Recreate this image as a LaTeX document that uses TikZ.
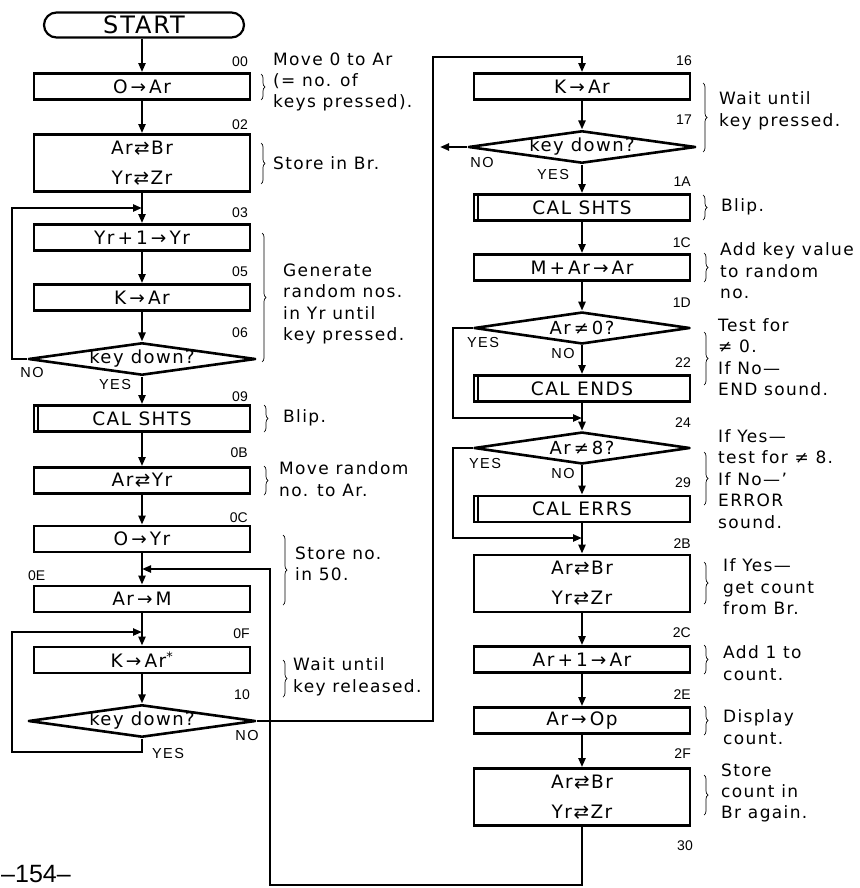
\documentclass[tikz,border=0pt]{standalone}
\usepackage{fontspec}
\setmainfont{DejaVu Sans}[LetterSpace=8]
\newfontfamily\lblfont{Liberation Sans}[LetterSpace=10]
\newfontfamily\numfont{Liberation Sans}
\usetikzlibrary{arrows.meta,shapes.geometric,decorations.pathreplacing}
\tikzset{
  proc/.style={draw, line width=2.8pt, minimum width=216pt, minimum height=26pt, inner sep=0pt,
    font=\fontsize{18.5}{30}\selectfont, align=center},
  dproc/.style={proc, minimum height=57pt},
  dec/.style={draw, diamond, aspect=7, line width=2.6pt, line join=round, minimum width=216pt,
    minimum height=32pt, inner sep=0pt, font=\fontsize{18}{20}\selectfont},
  term/.style={draw, rounded corners=12.5pt, line width=2.2pt, minimum width=200pt, minimum height=25pt,
    inner sep=0pt, font=\fontsize{24}{24}\selectfont},
  arr/.style={line width=2.2pt, -{Triangle[length=9pt,width=7pt]}},
  stepno/.style={font=\numfont\fontsize{14}{14}\selectfont, inner sep=0pt, anchor=east},
  yn/.style={font=\lblfont\fontsize{14.5}{15}\selectfont, inner sep=0pt},
  note/.style={font=\fontsize{17}{21.4}\selectfont, align=left, anchor=west, inner sep=0pt},
  brc/.style={decorate, decoration={brace, amplitude=4pt}, line width=0.7pt},
  subbar/.style={line width=1.4pt},
}
\begin{document}
\begin{tikzpicture}[x=1pt, y=-1pt]
\useasboundingbox (0,0) rectangle (859,888);

% ---------------- left column ----------------
\node[term] (start) at (144,25) {START};
\node[proc] (b00) at (142,86.5) {O\,→\,Ar};
\node[dproc] (b02) at (142,163) {Ar⇄Br\\Yr⇄Zr};
\node[proc] (b03) at (142,237.5) {Yr\,+\,1\,→\,Yr};
\node[proc] (b05) at (142,297.5) {K\,→\,Ar};
\node[dec] (d06) at (142,359) {key down?};
\node[proc] (b09) at (142,418.5) {CAL SHTS};
\node[proc] (b0B) at (142,480.5) {Ar⇄Yr};
\node[proc] (b0C) at (142,539) {O\,→\,Yr};
\node[proc] (b0E) at (142,599) {Ar\,→\,M};
\node[proc] (b0F) at (142,660) {K\,→\,Ar\textsuperscript{*}};
\node[dec] (d10) at (142,721) {key down?};

% ---------------- right column ----------------
\node[proc] (b16) at (582,86.5) {K\,→\,Ar};
\node[dec] (d17) at (582,147) {key down?};
\node[proc] (b1A) at (582,207.5) {CAL SHTS};
\node[proc] (b1C) at (582,267.5) {M\,+\,Ar\,→\,Ar};
\node[dec] (d1D) at (582,328) {Ar\,≠\,0?};
\node[proc] (b22) at (582,388.5) {CAL ENDS};
\node[dec] (d24) at (582,448) {Ar\,≠\,8?};
\node[proc] (b29) at (582,509) {CAL ERRS};
\node[dproc] (b2B) at (582,583.5) {Ar⇄Br\\Yr⇄Zr};
\node[proc] (b2C) at (582,659.5) {Ar\,+\,1\,→\,Ar};
\node[proc] (b2E) at (582,720.5) {Ar\,→\,Op};
\node[dproc] (b2F) at (582,797) {Ar⇄Br\\Yr⇄Zr};

% subroutine bars
\foreach \n in {b09,b1A,b22,b29}
  \draw[subbar] ([xshift=5.5pt]\n.north west) -- ([xshift=5.5pt]\n.south west);

% ---------------- junction coordinates ----------------
\coordinate (j03) at (142,208);
\coordinate (l03) at (12,208);
\coordinate (j0E) at (142,569);
\coordinate (j0F) at (142,632);
\coordinate (l0F) at (12,632);
\coordinate (c10) at (142,752);
\coordinate (r10) at (433,57);
\coordinate (n17) at (440,147);
\coordinate (j24) at (582,418);
\coordinate (l1D) at (453,418);
\coordinate (j2B) at (582,538);
\coordinate (l24) at (453,538);
\coordinate (c30) at (582,885);
\coordinate (r30) at (270,569);

% ---------------- connectors ----------------
\draw[arr] (b00.north |- start.south) -- (b00.north);
\draw[arr] (b00) -- (b02);
\draw[arr] (b02) -- (b03);
\draw[arr] (b03) -- (b05);
\draw[arr] (b05) -- (d06);
\draw[arr] (d06) -- (b09);
\draw[arr] (d06.west) -| (l03) -- (j03);
\draw[arr] (b09) -- (b0B);
\draw[arr] (b0B) -- (b0C);
\draw[arr] (b0C) -- (b0E);
\draw[arr] (b0E) -- (b0F);
\draw[arr] (b0F) -- (d10);
\draw[arr] (d10.south) -- (c10) -| (l0F) -- (j0F);
\draw[arr] (d10.east) -| (r10) -| (b16.north);

\draw[arr] (b16) -- (d17);
\draw[arr] (d17.west) -- (n17);
\draw[arr] (d17) -- (b1A);
\draw[arr] (b1A) -- (b1C);
\draw[arr] (b1C) -- (d1D);
\draw[arr] (d1D) -- (b22);
\draw[arr] (b22) -- (d24);
\draw[arr] (d1D.west) -| (l1D) -- (j24);
\draw[arr] (d24) -- (b29);
\draw[arr] (b29) -- (b2B);
\draw[arr] (d24.west) -| (l24) -- (j2B);
\draw[arr] (b2B) -- (b2C);
\draw[arr] (b2C) -- (b2E);
\draw[arr] (b2E) -- (b2F);
\draw[arr] (b2F.south) -- (c30) -| (r30) -- (j0E);

% ---------------- YES / NO ----------------
\node[yn] (no06) at (32,373) {NO};
\node[yn] (yes06) at (115,385) {YES};
\node[yn] (no10) at (247,735) {NO};
\node[yn] (yes10) at (168,753) {YES};
\node[yn] (no17) at (482,163) {NO};
\node[yn] (yes17) at (553,175) {YES};
\node[yn] (yes1D) at (483,343) {YES};
\node[yn] (no1D) at (563,354) {NO};
\node[yn] (yes24) at (485,464) {YES};
\node[yn] (no24) at (563,474) {NO};

% ---------------- step numbers ----------------
\node[stepno] (s00) at (248,62) {00};
\node[stepno] (s02) at (248,125) {02};
\node[stepno] (s03) at (248,213) {03};
\node[stepno] (s05) at (248,272) {05};
\node[stepno] (s06) at (248,333) {06};
\node[stepno] (s09) at (248,397) {09};
\node[stepno] (s0B) at (248,453) {0B};
\node[stepno] (s0C) at (248,518) {0C};
\node[stepno, anchor=west] (s0E) at (28,576) {0E};
\node[stepno] (s0F) at (250,634) {0F};
\node[stepno] (s10) at (250,695) {10};
\node[stepno] (s16) at (692,61) {16};
\node[stepno] (s17) at (692,120) {17};
\node[stepno] (s1A) at (691,182) {1A};
\node[stepno] (s1C) at (691,243) {1C};
\node[stepno] (s1D) at (691,303) {1D};
\node[stepno] (s22) at (691,363) {22};
\node[stepno] (s24) at (691,423) {24};
\node[stepno] (s29) at (691,483) {29};
\node[stepno] (s2B) at (691,544) {2B};
\node[stepno] (s2C) at (691,633) {2C};
\node[stepno] (s2E) at (691,695) {2E};
\node[stepno] (s2F) at (691,754) {2F};
\node[stepno] (s30) at (693,846) {30};

% ---------------- annotations left ----------------
\draw[brc] (261,74) -- (261,100);
\node[note] (a00) at (273,82) {Move 0 to Ar\\(= no. of\\keys pressed).};
\draw[brc] (261,143) -- (261,184);
\node[note] (a02) at (273,163) {Store in Br.};
\draw[brc] (262,233) -- (262,362);
\node[note] (a03) at (283,304) {Generate\\random nos.\\in Yr until\\key pressed.};
\draw[brc] (264,405) -- (264,432);
\node[note] (a09) at (283,418) {Blip.};
\draw[brc] (264,466) -- (264,495);
\node[note] (a0B) at (279,479) {Move random\\no. to Ar.};
\draw[brc] (283,535) -- (283,605);
\node[note] (a0C) at (295,564) {Store no.\\in 50.};
\draw[brc] (283,660) -- (283,697);
\node[note] (a0F) at (293,677) {Wait until\\key released.};

% ---------------- annotations right ----------------
\draw[brc] (703,83) -- (703,152);
\node[note] (a16) at (719,111) {Wait until\\key pressed.};
\draw[brc] (703,195) -- (703,220);
\node[note] (a1A) at (721,207) {Blip.};
\draw[brc] (704,253) -- (704,282);
\node[note] (a1C) at (720,271) {Add key value\\to random\\no.};
\draw[brc] (704,332) -- (704,385);
\node[note] (a1D) at (718,357) {Test for\\≠ 0.\\If No—\\END sound.};
\draw[brc] (704,452) -- (704,505);
\node[note] (a24) at (718,479) {If Yes—\\test for ≠ 8.\\If No—’\\ERROR\\sound.};
\draw[brc] (704,562) -- (704,604);
\node[note] (a2B) at (723,587) {If Yes—\\get count\\from Br.};
\draw[brc] (704,645) -- (704,674);
\node[note] (a2C) at (723,663) {Add 1 to\\count.};
\draw[brc] (704,706) -- (704,735);
\node[note] (a2E) at (723,727) {Display\\count.};
\draw[brc] (704,775) -- (704,815);
\node[note] (a2F) at (721,793) {Store\\count in\\Br again.};

% page number
\node[font=\numfont\fontsize{25}{25}\selectfont, anchor=base west, inner sep=0pt] (pg) at (1,882) {–154–};
\end{tikzpicture}
\end{document}
